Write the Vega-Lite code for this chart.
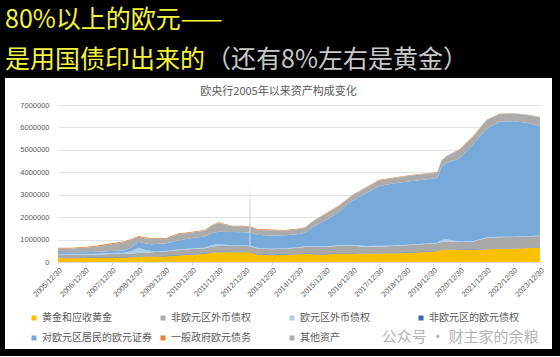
{
 "$schema": "https://vega.github.io/schema/vega-lite/v6.json",
 "background": "black",
 "padding": {"left": 5, "top": 8, "right": 8, "bottom": 7},
 "spacing": 4,
 "config": {"view": {"stroke": null, "fill": "white"}, "font": "Noto Sans CJK SC"},
 "title": {"text": "80%以上的欧元——", "anchor": "start", "frame": "bounds", "color": "#F4F43C", "fontSize": 25, "fontWeight": "normal", "offset": 15, "font": "Noto Sans CJK SC"},
 "datasets": {
  "bs": [
   {"d":"2005-12-30","s":"黄金和应收黄金","v":163000},{"d":"2005-12-30","s":"非欧元区外币债权","v":155000},{"d":"2005-12-30","s":"欧元区外币债权","v":23000},{"d":"2005-12-30","s":"非欧元区的欧元债权","v":9000},{"d":"2005-12-30","s":"对欧元区居民的欧元证券","v":92000},{"d":"2005-12-30","s":"一般政府欧元债务","v":40000},{"d":"2005-12-30","s":"其他资产","v":150000},
   {"d":"2006-06-30","s":"黄金和应收黄金","v":172000},{"d":"2006-06-30","s":"非欧元区外币债权","v":145000},{"d":"2006-06-30","s":"欧元区外币债权","v":24000},{"d":"2006-06-30","s":"非欧元区的欧元债权","v":11000},{"d":"2006-06-30","s":"对欧元区居民的欧元证券","v":82000},{"d":"2006-06-30","s":"一般政府欧元债务","v":40000},{"d":"2006-06-30","s":"其他资产","v":165000},
   {"d":"2006-12-29","s":"黄金和应收黄金","v":177000},{"d":"2006-12-29","s":"非欧元区外币债权","v":143000},{"d":"2006-12-29","s":"欧元区外币债权","v":24000},{"d":"2006-12-29","s":"非欧元区的欧元债权","v":12000},{"d":"2006-12-29","s":"对欧元区居民的欧元证券","v":78000},{"d":"2006-12-29","s":"一般政府欧元债务","v":39000},{"d":"2006-12-29","s":"其他资产","v":200000},
   {"d":"2007-06-29","s":"黄金和应收黄金","v":182000},{"d":"2007-06-29","s":"非欧元区外币债权","v":140000},{"d":"2007-06-29","s":"欧元区外币债权","v":30000},{"d":"2007-06-29","s":"非欧元区的欧元债权","v":15000},{"d":"2007-06-29","s":"对欧元区居民的欧元证券","v":88000},{"d":"2007-06-29","s":"一般政府欧元债务","v":38000},{"d":"2007-06-29","s":"其他资产","v":240000},
   {"d":"2007-12-28","s":"黄金和应收黄金","v":201000},{"d":"2007-12-28","s":"非欧元区外币债权","v":136000},{"d":"2007-12-28","s":"欧元区外币债权","v":42000},{"d":"2007-12-28","s":"非欧元区的欧元债权","v":19000},{"d":"2007-12-28","s":"对欧元区居民的欧元证券","v":96000},{"d":"2007-12-28","s":"一般政府欧元债务","v":37000},{"d":"2007-12-28","s":"其他资产","v":300000},
   {"d":"2008-06-27","s":"黄金和应收黄金","v":205000},{"d":"2008-06-27","s":"非欧元区外币债权","v":138000},{"d":"2008-06-27","s":"欧元区外币债权","v":50000},{"d":"2008-06-27","s":"非欧元区的欧元债权","v":18000},{"d":"2008-06-27","s":"对欧元区居民的欧元证券","v":110000},{"d":"2008-06-27","s":"一般政府欧元债务","v":37000},{"d":"2008-06-27","s":"其他资产","v":370000},
   {"d":"2008-09-26","s":"黄金和应收黄金","v":212000},{"d":"2008-09-26","s":"非欧元区外币债权","v":150000},{"d":"2008-09-26","s":"欧元区外币债权","v":110000},{"d":"2008-09-26","s":"非欧元区的欧元债权","v":18000},{"d":"2008-09-26","s":"对欧元区居民的欧元证券","v":160000},{"d":"2008-09-26","s":"一般政府欧元债务","v":37000},{"d":"2008-09-26","s":"其他资产","v":340000},
   {"d":"2008-12-31","s":"黄金和应收黄金","v":218000},{"d":"2008-12-31","s":"非欧元区外币债权","v":160000},{"d":"2008-12-31","s":"欧元区外币债权","v":234000},{"d":"2008-12-31","s":"非欧元区的欧元债权","v":20000},{"d":"2008-12-31","s":"对欧元区居民的欧元证券","v":271000},{"d":"2008-12-31","s":"一般政府欧元债务","v":38000},{"d":"2008-12-31","s":"其他资产","v":220000},
   {"d":"2009-03-27","s":"黄金和应收黄金","v":230000},{"d":"2009-03-27","s":"非欧元区外币债权","v":165000},{"d":"2009-03-27","s":"欧元区外币债权","v":130000},{"d":"2009-03-27","s":"非欧元区的欧元债权","v":18000},{"d":"2009-03-27","s":"对欧元区居民的欧元证券","v":290000},{"d":"2009-03-27","s":"一般政府欧元债务","v":37000},{"d":"2009-03-27","s":"其他资产","v":230000},
   {"d":"2009-06-26","s":"黄金和应收黄金","v":240000},{"d":"2009-06-26","s":"非欧元区外币债权","v":175000},{"d":"2009-06-26","s":"欧元区外币债权","v":60000},{"d":"2009-06-26","s":"非欧元区的欧元债权","v":18000},{"d":"2009-06-26","s":"对欧元区居民的欧元证券","v":300000},{"d":"2009-06-26","s":"一般政府欧元债务","v":36000},{"d":"2009-06-26","s":"其他资产","v":240000},
   {"d":"2009-12-31","s":"黄金和应收黄金","v":250000},{"d":"2009-12-31","s":"非欧元区外币债权","v":195000},{"d":"2009-12-31","s":"欧元区外币债权","v":32000},{"d":"2009-12-31","s":"非欧元区的欧元债权","v":18000},{"d":"2009-12-31","s":"对欧元区居民的欧元证券","v":329000},{"d":"2009-12-31","s":"一般政府欧元债务","v":36000},{"d":"2009-12-31","s":"其他资产","v":200000},
   {"d":"2010-06-25","s":"黄金和应收黄金","v":290000},{"d":"2010-06-25","s":"非欧元区外币债权","v":215000},{"d":"2010-06-25","s":"欧元区外币债权","v":28000},{"d":"2010-06-25","s":"非欧元区的欧元债权","v":20000},{"d":"2010-06-25","s":"对欧元区居民的欧元证券","v":410000},{"d":"2010-06-25","s":"一般政府欧元债务","v":35000},{"d":"2010-06-25","s":"其他资产","v":270000},
   {"d":"2010-12-31","s":"黄金和应收黄金","v":330000},{"d":"2010-12-31","s":"非欧元区外币债权","v":224000},{"d":"2010-12-31","s":"欧元区外币债权","v":26000},{"d":"2010-12-31","s":"非欧元区的欧元债权","v":22000},{"d":"2010-12-31","s":"对欧元区居民的欧元证券","v":470000},{"d":"2010-12-31","s":"一般政府欧元债务","v":35000},{"d":"2010-12-31","s":"其他资产","v":240000},
   {"d":"2011-06-24","s":"黄金和应收黄金","v":360000},{"d":"2011-06-24","s":"非欧元区外币债权","v":230000},{"d":"2011-06-24","s":"欧元区外币债权","v":26000},{"d":"2011-06-24","s":"非欧元区的欧元债权","v":24000},{"d":"2011-06-24","s":"对欧元区居民的欧元证券","v":500000},{"d":"2011-06-24","s":"一般政府欧元债务","v":34000},{"d":"2011-06-24","s":"其他资产","v":250000},
   {"d":"2011-09-30","s":"黄金和应收黄金","v":430000},{"d":"2011-09-30","s":"非欧元区外币债权","v":240000},{"d":"2011-09-30","s":"欧元区外币债权","v":60000},{"d":"2011-09-30","s":"非欧元区的欧元债权","v":25000},{"d":"2011-09-30","s":"对欧元区居民的欧元证券","v":530000},{"d":"2011-09-30","s":"一般政府欧元债务","v":33000},{"d":"2011-09-30","s":"其他资产","v":330000},
   {"d":"2011-12-30","s":"黄金和应收黄金","v":440000},{"d":"2011-12-30","s":"非欧元区外币债权","v":245000},{"d":"2011-12-30","s":"欧元区外币债权","v":97000},{"d":"2011-12-30","s":"非欧元区的欧元债权","v":26000},{"d":"2011-12-30","s":"对欧元区居民的欧元证券","v":540000},{"d":"2011-12-30","s":"一般政府欧元债务","v":33000},{"d":"2011-12-30","s":"其他资产","v":390000},
   {"d":"2012-06-29","s":"黄金和应收黄金","v":433000},{"d":"2012-06-29","s":"非欧元区外币债权","v":255000},{"d":"2012-06-29","s":"欧元区外币债权","v":40000},{"d":"2012-06-29","s":"非欧元区的欧元债权","v":22000},{"d":"2012-06-29","s":"对欧元区居民的欧元证券","v":590000},{"d":"2012-06-29","s":"一般政府欧元债务","v":31000},{"d":"2012-06-29","s":"其他资产","v":250000},
   {"d":"2012-12-28","s":"黄金和应收黄金","v":438000},{"d":"2012-12-28","s":"非欧元区外币债权","v":251000},{"d":"2012-12-28","s":"欧元区外币债权","v":33000},{"d":"2012-12-28","s":"非欧元区的欧元债权","v":19000},{"d":"2012-12-28","s":"对欧元区居民的欧元证券","v":586000},{"d":"2012-12-28","s":"一般政府欧元债务","v":30000},{"d":"2012-12-28","s":"其他资产","v":260000},
   {"d":"2013-02-22","s":"黄金和应收黄金","v":430000},{"d":"2013-02-22","s":"非欧元区外币债权","v":248000},{"d":"2013-02-22","s":"欧元区外币债权","v":30000},{"d":"2013-02-22","s":"非欧元区的欧元债权","v":19000},{"d":"2013-02-22","s":"对欧元区居民的欧元证券","v":580000},{"d":"2013-02-22","s":"一般政府欧元债务","v":30000},{"d":"2013-02-22","s":"其他资产","v":250000},
   {"d":"2013-03-01","s":"黄金和应收黄金","v":430000},{"d":"2013-03-01","s":"非欧元区外币债权","v":248000},{"d":"2013-03-01","s":"欧元区外币债权","v":2000000},{"d":"2013-03-01","s":"非欧元区的欧元债权","v":19000},{"d":"2013-03-01","s":"对欧元区居民的欧元证券","v":580000},{"d":"2013-03-01","s":"一般政府欧元债务","v":30000},{"d":"2013-03-01","s":"其他资产","v":250000},
   {"d":"2013-03-08","s":"黄金和应收黄金","v":425000},{"d":"2013-03-08","s":"非欧元区外币债权","v":248000},{"d":"2013-03-08","s":"欧元区外币债权","v":30000},{"d":"2013-03-08","s":"非欧元区的欧元债权","v":19000},{"d":"2013-03-08","s":"对欧元区居民的欧元证券","v":580000},{"d":"2013-03-08","s":"一般政府欧元债务","v":30000},{"d":"2013-03-08","s":"其他资产","v":250000},
   {"d":"2013-06-28","s":"黄金和应收黄金","v":320000},{"d":"2013-06-28","s":"非欧元区外币债权","v":245000},{"d":"2013-06-28","s":"欧元区外币债权","v":25000},{"d":"2013-06-28","s":"非欧元区的欧元债权","v":21000},{"d":"2013-06-28","s":"对欧元区居民的欧元证券","v":590000},{"d":"2013-06-28","s":"一般政府欧元债务","v":29000},{"d":"2013-06-28","s":"其他资产","v":230000},
   {"d":"2013-12-27","s":"黄金和应收黄金","v":303000},{"d":"2013-12-27","s":"非欧元区外币债权","v":245000},{"d":"2013-12-27","s":"欧元区外币债权","v":23000},{"d":"2013-12-27","s":"非欧元区的欧元债权","v":21000},{"d":"2013-12-27","s":"对欧元区居民的欧元证券","v":589000},{"d":"2013-12-27","s":"一般政府欧元债务","v":28000},{"d":"2013-12-27","s":"其他资产","v":240000},
   {"d":"2014-06-27","s":"黄金和应收黄金","v":320000},{"d":"2014-06-27","s":"非欧元区外币债权","v":250000},{"d":"2014-06-27","s":"欧元区外币债权","v":25000},{"d":"2014-06-27","s":"非欧元区的欧元债权","v":20000},{"d":"2014-06-27","s":"对欧元区居民的欧元证券","v":580000},{"d":"2014-06-27","s":"一般政府欧元债务","v":27000},{"d":"2014-06-27","s":"其他资产","v":200000},
   {"d":"2014-12-31","s":"黄金和应收黄金","v":343000},{"d":"2014-12-31","s":"非欧元区外币债权","v":271000},{"d":"2014-12-31","s":"欧元区外币债权","v":28000},{"d":"2014-12-31","s":"非欧元区的欧元债权","v":19000},{"d":"2014-12-31","s":"对欧元区居民的欧元证券","v":590000},{"d":"2014-12-31","s":"一般政府欧元债务","v":27000},{"d":"2014-12-31","s":"其他资产","v":220000},
   {"d":"2015-03-27","s":"黄金和应收黄金","v":370000},{"d":"2015-03-27","s":"非欧元区外币债权","v":285000},{"d":"2015-03-27","s":"欧元区外币债权","v":30000},{"d":"2015-03-27","s":"非欧元区的欧元债权","v":19000},{"d":"2015-03-27","s":"对欧元区居民的欧元证券","v":600000},{"d":"2015-03-27","s":"一般政府欧元债务","v":26000},{"d":"2015-03-27","s":"其他资产","v":220000},
   {"d":"2015-06-26","s":"黄金和应收黄金","v":350000},{"d":"2015-06-26","s":"非欧元区外币债权","v":300000},{"d":"2015-06-26","s":"欧元区外币债权","v":30000},{"d":"2015-06-26","s":"非欧元区的欧元债权","v":20000},{"d":"2015-06-26","s":"对欧元区居民的欧元证券","v":850000},{"d":"2015-06-26","s":"一般政府欧元债务","v":26000},{"d":"2015-06-26","s":"其他资产","v":230000},
   {"d":"2015-12-31","s":"黄金和应收黄金","v":338000},{"d":"2015-12-31","s":"非欧元区外币债权","v":307000},{"d":"2015-12-31","s":"欧元区外币债权","v":31000},{"d":"2015-12-31","s":"非欧元区的欧元债权","v":20000},{"d":"2015-12-31","s":"对欧元区居民的欧元证券","v":1161000},{"d":"2015-12-31","s":"一般政府欧元债务","v":25000},{"d":"2015-12-31","s":"其他资产","v":290000},
   {"d":"2016-06-24","s":"黄金和应收黄金","v":380000},{"d":"2016-06-24","s":"非欧元区外币债权","v":320000},{"d":"2016-06-24","s":"欧元区外币债权","v":31000},{"d":"2016-06-24","s":"非欧元区的欧元债权","v":19000},{"d":"2016-06-24","s":"对欧元区居民的欧元证券","v":1480000},{"d":"2016-06-24","s":"一般政府欧元债务","v":26000},{"d":"2016-06-24","s":"其他资产","v":260000},
   {"d":"2016-12-30","s":"黄金和应收黄金","v":383000},{"d":"2016-12-30","s":"非欧元区外币债权","v":327000},{"d":"2016-12-30","s":"欧元区外币债权","v":31000},{"d":"2016-12-30","s":"非欧元区的欧元债权","v":19000},{"d":"2016-12-30","s":"对欧元区居民的欧元证券","v":1974000},{"d":"2016-12-30","s":"一般政府欧元债务","v":26000},{"d":"2016-12-30","s":"其他资产","v":240000},
   {"d":"2017-06-30","s":"黄金和应收黄金","v":365000},{"d":"2017-06-30","s":"非欧元区外币债权","v":300000},{"d":"2017-06-30","s":"欧元区外币债权","v":35000},{"d":"2017-06-30","s":"非欧元区的欧元债权","v":17000},{"d":"2017-06-30","s":"对欧元区居民的欧元证券","v":2350000},{"d":"2017-06-30","s":"一般政府欧元债务","v":25000},{"d":"2017-06-30","s":"其他资产","v":240000},
   {"d":"2017-12-29","s":"黄金和应收黄金","v":377000},{"d":"2017-12-29","s":"非欧元区外币债权","v":297000},{"d":"2017-12-29","s":"欧元区外币债权","v":38000},{"d":"2017-12-29","s":"非欧元区的欧元债权","v":16000},{"d":"2017-12-29","s":"对欧元区居民的欧元证券","v":2660000},{"d":"2017-12-29","s":"一般政府欧元债务","v":24000},{"d":"2017-12-29","s":"其他资产","v":250000},
   {"d":"2018-06-29","s":"黄金和应收黄金","v":385000},{"d":"2018-06-29","s":"非欧元区外币债权","v":310000},{"d":"2018-06-29","s":"欧元区外币债权","v":25000},{"d":"2018-06-29","s":"非欧元区的欧元债权","v":17000},{"d":"2018-06-29","s":"对欧元区居民的欧元证券","v":2760000},{"d":"2018-06-29","s":"一般政府欧元债务","v":24000},{"d":"2018-06-29","s":"其他资产","v":240000},
   {"d":"2018-12-28","s":"黄金和应收黄金","v":403000},{"d":"2018-12-28","s":"非欧元区外币债权","v":325000},{"d":"2018-12-28","s":"欧元区外币债权","v":21000},{"d":"2018-12-28","s":"非欧元区的欧元债权","v":17000},{"d":"2018-12-28","s":"对欧元区居民的欧元证券","v":2816000},{"d":"2018-12-28","s":"一般政府欧元债务","v":23000},{"d":"2018-12-28","s":"其他资产","v":240000},
   {"d":"2019-06-28","s":"黄金和应收黄金","v":440000},{"d":"2019-06-28","s":"非欧元区外币债权","v":330000},{"d":"2019-06-28","s":"欧元区外币债权","v":22000},{"d":"2019-06-28","s":"非欧元区的欧元债权","v":15000},{"d":"2019-06-28","s":"对欧元区居民的欧元证券","v":2840000},{"d":"2019-06-28","s":"一般政府欧元债务","v":23000},{"d":"2019-06-28","s":"其他资产","v":250000},
   {"d":"2019-12-27","s":"黄金和应收黄金","v":471000},{"d":"2019-12-27","s":"非欧元区外币债权","v":340000},{"d":"2019-12-27","s":"欧元区外币债权","v":21000},{"d":"2019-12-27","s":"非欧元区的欧元债权","v":14000},{"d":"2019-12-27","s":"对欧元区居民的欧元证券","v":2882000},{"d":"2019-12-27","s":"一般政府欧元债务","v":23000},{"d":"2019-12-27","s":"其他资产","v":230000},
   {"d":"2020-02-28","s":"黄金和应收黄金","v":480000},{"d":"2020-02-28","s":"非欧元区外币债权","v":340000},{"d":"2020-02-28","s":"欧元区外币债权","v":21000},{"d":"2020-02-28","s":"非欧元区的欧元债权","v":14000},{"d":"2020-02-28","s":"对欧元区居民的欧元证券","v":2890000},{"d":"2020-02-28","s":"一般政府欧元债务","v":23000},{"d":"2020-02-28","s":"其他资产","v":240000},
   {"d":"2020-04-24","s":"黄金和应收黄金","v":530000},{"d":"2020-04-24","s":"非欧元区外币债权","v":345000},{"d":"2020-04-24","s":"欧元区外币债权","v":90000},{"d":"2020-04-24","s":"非欧元区的欧元债权","v":13000},{"d":"2020-04-24","s":"对欧元区居民的欧元证券","v":3250000},{"d":"2020-04-24","s":"一般政府欧元债务","v":23000},{"d":"2020-04-24","s":"其他资产","v":270000},
   {"d":"2020-06-26","s":"黄金和应收黄金","v":560000},{"d":"2020-06-26","s":"非欧元区外币债权","v":345000},{"d":"2020-06-26","s":"欧元区外币债权","v":100000},{"d":"2020-06-26","s":"非欧元区的欧元债权","v":13000},{"d":"2020-06-26","s":"对欧元区居民的欧元证券","v":3400000},{"d":"2020-06-26","s":"一般政府欧元债务","v":23000},{"d":"2020-06-26","s":"其他资产","v":270000},
   {"d":"2020-12-31","s":"黄金和应收黄金","v":536000},{"d":"2020-12-31","s":"非欧元区外币债权","v":343000},{"d":"2020-12-31","s":"欧元区外币债权","v":25000},{"d":"2020-12-31","s":"非欧元区的欧元债权","v":12000},{"d":"2020-12-31","s":"对欧元区居民的欧元证券","v":3696000},{"d":"2020-12-31","s":"一般政府欧元债务","v":23000},{"d":"2020-12-31","s":"其他资产","v":400000},
   {"d":"2021-06-25","s":"黄金和应收黄金","v":540000},{"d":"2021-06-25","s":"非欧元区外币债权","v":350000},{"d":"2021-06-25","s":"欧元区外币债权","v":25000},{"d":"2021-06-25","s":"非欧元区的欧元债权","v":13000},{"d":"2021-06-25","s":"对欧元区居民的欧元证券","v":4300000},{"d":"2021-06-25","s":"一般政府欧元债务","v":22000},{"d":"2021-06-25","s":"其他资产","v":350000},
   {"d":"2021-12-31","s":"黄金和应收黄金","v":560000},{"d":"2021-12-31","s":"非欧元区外币债权","v":495000},{"d":"2021-12-31","s":"欧元区外币债权","v":26000},{"d":"2021-12-31","s":"非欧元区的欧元债权","v":14000},{"d":"2021-12-31","s":"对欧元区居民的欧元证券","v":4850000},{"d":"2021-12-31","s":"一般政府欧元债务","v":22000},{"d":"2021-12-31","s":"其他资产","v":380000},
   {"d":"2022-06-24","s":"黄金和应收黄金","v":590000},{"d":"2022-06-24","s":"非欧元区外币债权","v":500000},{"d":"2022-06-24","s":"欧元区外币债权","v":20000},{"d":"2022-06-24","s":"非欧元区的欧元债权","v":14000},{"d":"2022-06-24","s":"对欧元区居民的欧元证券","v":5130000},{"d":"2022-06-24","s":"一般政府欧元债务","v":21000},{"d":"2022-06-24","s":"其他资产","v":340000},
   {"d":"2022-12-30","s":"黄金和应收黄金","v":593000},{"d":"2022-12-30","s":"非欧元区外币债权","v":506000},{"d":"2022-12-30","s":"欧元区外币债权","v":14000},{"d":"2022-12-30","s":"非欧元区的欧元债权","v":13000},{"d":"2022-12-30","s":"对欧元区居民的欧元证券","v":5150000},{"d":"2022-12-30","s":"一般政府欧元债务","v":21000},{"d":"2022-12-30","s":"其他资产","v":340000},
   {"d":"2023-06-30","s":"黄金和应收黄金","v":620000},{"d":"2023-06-30","s":"非欧元区外币债权","v":500000},{"d":"2023-06-30","s":"欧元区外币债权","v":15000},{"d":"2023-06-30","s":"非欧元区的欧元债权","v":15000},{"d":"2023-06-30","s":"对欧元区居民的欧元证券","v":5060000},{"d":"2023-06-30","s":"一般政府欧元债务","v":21000},{"d":"2023-06-30","s":"其他资产","v":350000},
   {"d":"2023-12-29","s":"黄金和应收黄金","v":649000},{"d":"2023-12-29","s":"非欧元区外币债权","v":499000},{"d":"2023-12-29","s":"欧元区外币债权","v":15000},{"d":"2023-12-29","s":"非欧元区的欧元债权","v":16000},{"d":"2023-12-29","s":"对欧元区居民的欧元证券","v":4878000},{"d":"2023-12-29","s":"一般政府欧元债务","v":21000},{"d":"2023-12-29","s":"其他资产","v":390000}
  ]
 },
 "vconcat": [
  {
   "spacing": 0,
   "hconcat": [
    {
     "width": 1, "height": 1,
     "view": {"fill": null, "stroke": null},
     "title": {"text": "是用国债印出来的", "anchor": "start", "frame": "bounds", "color": "#F4F43C", "fontSize": 25, "fontWeight": "normal", "offset": 0, "font": "Noto Sans CJK SC"},
     "data": {"values": []},
     "mark": {"type": "text"},
     "encoding": {}
    },
    {
     "width": 1, "height": 1,
     "view": {"fill": null, "stroke": null},
     "title": {"text": "（还有8%左右是黄金）", "anchor": "start", "frame": "bounds", "color": "#C8C8C8", "fontSize": 25, "fontWeight": "normal", "offset": 0, "font": "Noto Sans CJK SC"},
     "data": {"values": []},
     "mark": {"type": "text"},
     "encoding": {}
    }
   ]
  },
  {
   "width": 547,
   "height": 271,
   "title": {"text": "欧央行2005年以来资产构成变化", "fontSize": 11, "color": "#595959", "fontWeight": "normal", "anchor": "middle", "frame": "group", "offset": -19},
   "layer": [
    {
     "data": {"name": "bs"},
     "mark": {"type": "area", "interpolate": "linear"},
     "encoding": {
      "x": {"field": "d", "type": "temporal",
        "scale": {"type": "utc", "domain": [{"year": 2005, "month": 12, "date": 30, "utc": true}, {"year": 2023, "month": 12, "date": 30, "utc": true}], "range": [53, 535]},
        "axis": {"title": null, "tickCount": 30, "values": [
          {"year": 2005, "month": 12, "date": 30, "utc": true},{"year": 2006, "month": 12, "date": 30, "utc": true},{"year": 2007, "month": 12, "date": 30, "utc": true},{"year": 2008, "month": 12, "date": 30, "utc": true},{"year": 2009, "month": 12, "date": 30, "utc": true},{"year": 2010, "month": 12, "date": 30, "utc": true},{"year": 2011, "month": 12, "date": 30, "utc": true},{"year": 2012, "month": 12, "date": 30, "utc": true},{"year": 2013, "month": 12, "date": 30, "utc": true},{"year": 2014, "month": 12, "date": 30, "utc": true},{"year": 2015, "month": 12, "date": 30, "utc": true},{"year": 2016, "month": 12, "date": 30, "utc": true},{"year": 2017, "month": 12, "date": 30, "utc": true},{"year": 2018, "month": 12, "date": 30, "utc": true},{"year": 2019, "month": 12, "date": 30, "utc": true},{"year": 2020, "month": 12, "date": 30, "utc": true},{"year": 2021, "month": 12, "date": 30, "utc": true},{"year": 2022, "month": 12, "date": 30, "utc": true},{"year": 2023, "month": 12, "date": 30, "utc": true}],
          "format": "%Y/%m/%d", "labelAngle": -45, "labelFontSize": 7.5, "labelColor": "#595959", "labelFont": "Liberation Sans", "labelOverlap": false, "labelFlush": false, "labelPadding": 1, "tickColor": "#D9D9D9", "tickSize": 3, "domainColor": "#D9D9D9", "grid": false, "offset": -87}},
      "y": {"field": "v", "type": "quantitative", "stack": "zero",
        "scale": {"domain": [0, 7000000], "range": [184, 27], "nice": false, "zero": true},
        "axis": {"title": null, "tickCount": 20, "values": [0, 1000000, 2000000, 3000000, 4000000, 5000000, 6000000, 7000000], "format": "d", "labelFontSize": 7.5, "labelColor": "#595959", "labelFont": "Liberation Sans", "labelOverlap": false, "labelFlush": false, "domain": false, "ticks": false, "tickSize": 0, "labelPadding": 4, "gridColor": "#E4E4E4", "offset": -48}},
      "color": {"field": "s", "type": "nominal",
        "sort": ["黄金和应收黄金", "非欧元区外币债权", "欧元区外币债权", "非欧元区的欧元债权", "对欧元区居民的欧元证券", "一般政府欧元债务", "其他资产"],
        "scale": {"domain": ["黄金和应收黄金", "非欧元区外币债权", "欧元区外币债权", "非欧元区的欧元债权", "对欧元区居民的欧元证券", "一般政府欧元债务", "其他资产"], "range": ["#FFC000", "#A9A9A9", "#A9CDEB", "#3566B8", "#77A9DB", "#ED7D31", "#ABABAB"]},
        "legend": {"orient": "none", "legendX": 24, "legendY": 240, "direction": "horizontal", "columns": 4, "title": null, "symbolType": "square", "symbolSize": 25, "symbolStrokeWidth": 0, "labelFontSize": 10, "labelColor": "#595959", "labelFont": "Noto Sans CJK SC", "columnPadding": 6, "rowPadding": 10, "gridAlign": "all", "labelOffset": 3}}
     }
    },
    {
     "data": {"values": [{}]},
     "mark": {"type": "text", "align": "left", "baseline": "middle", "fontSize": 15, "color": "#B4B4B4", "font": "Noto Sans CJK SC"},
     "encoding": {
      "x": {"datum": {"year": 2018, "month": 2, "date": 1, "utc": true}, "type": "temporal"},
      "y": {"datum": -3350000, "type": "quantitative"},
      "text": {"value": "公众号 · 财主家的余粮"}
     }
    }
   ]
  }
 ]
}
